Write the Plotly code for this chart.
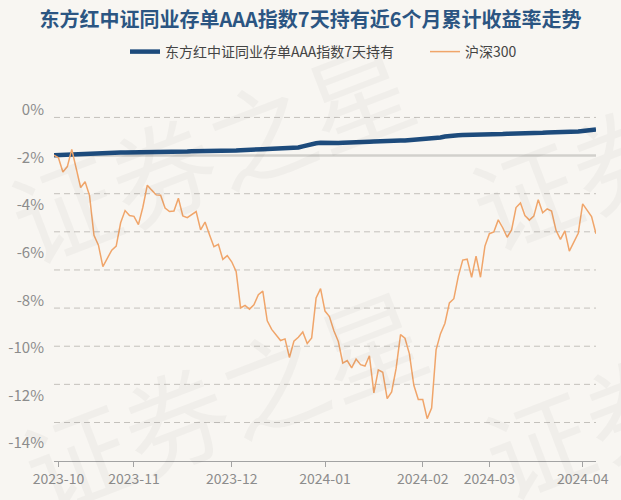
import pandas as pd
import plotly.graph_objects as go

# trading-day categories (Sep 28 2023 .. Apr 8 2024, China A-share calendar)
holidays = ['2023-09-29', '2023-10-02', '2023-10-03', '2023-10-04', '2023-10-05', '2023-10-06',
            '2024-01-01', '2024-02-09', '2024-02-12', '2024-02-13', '2024-02-14', '2024-02-15',
            '2024-02-16', '2024-04-04', '2024-04-05']
dates = pd.bdate_range('2023-09-28', '2024-04-08', freq='C', holidays=holidays).strftime('%Y-%m-%d').tolist()

fund_name = '东方红中证同业存单AAA指数7天持有'
index_name = '沪深300'

fund = [
    -1.90, -1.89, -1.88, -1.87, -1.86, -1.86, -1.85, -1.84, -1.83, -1.82,
    -1.81, -1.81, -1.80, -1.80, -1.80, -1.79, -1.79, -1.79, -1.78, -1.78,
    -1.78, -1.78, -1.77, -1.77, -1.77, -1.77, -1.76, -1.76, -1.76, -1.75,
    -1.75, -1.74, -1.74, -1.74, -1.73, -1.73, -1.72, -1.72, -1.71, -1.71,
    -1.70, -1.70, -1.69, -1.69, -1.68, -1.67, -1.66, -1.65, -1.64, -1.63,
    -1.63, -1.62, -1.62, -1.61, -1.60, -1.58, -1.53, -1.48, -1.43, -1.40,
    -1.38, -1.39, -1.40, -1.40, -1.39, -1.38, -1.38, -1.37, -1.36, -1.35,
    -1.35, -1.34, -1.33, -1.33, -1.32, -1.31, -1.30, -1.30, -1.29, -1.28,
    -1.27, -1.25, -1.24, -1.22, -1.21, -1.20, -1.18, -1.16, -1.12, -1.09,
    -1.07, -1.06, -1.05, -1.05, -1.04, -1.04, -1.03, -1.03, -1.02, -1.02,
    -1.01, -1.01, -1.00, -1.00, -0.99, -0.99, -0.98, -0.97, -0.97, -0.96,
    -0.96, -0.95, -0.95, -0.94, -0.94, -0.93, -0.93, -0.92, -0.91, -0.89,
    -0.87, -0.85, -0.82,
]

hs300 = [
    -1.90, -2.01, -2.61, -2.38, -1.66, -2.49, -3.26, -3.02, -3.60, -5.27,
    -5.68, -6.58, -6.20, -5.89, -5.72, -4.74, -4.23, -4.44, -4.47, -4.82,
    -4.09, -3.16, -3.37, -3.57, -3.58, -4.12, -4.27, -4.25, -3.71, -4.45,
    -4.53, -4.39, -4.27, -5.04, -4.71, -5.24, -5.75, -5.65, -6.28, -6.12,
    -6.38, -6.79, -8.32, -8.21, -8.37, -8.19, -7.76, -7.61, -8.86, -9.22,
    -9.44, -9.69, -9.62, -10.40, -9.72, -9.55, -9.33, -9.81, -9.58, -7.90,
    -7.51, -8.45, -8.68, -9.28, -9.73, -10.64, -10.53, -10.84, -10.47, -10.70,
    -10.76, -10.33, -11.89, -10.92, -11.02, -12.13, -11.85, -10.87, -9.44, -9.59,
    -10.25, -11.57, -12.17, -12.17, -12.97, -12.53, -10.08, -9.40, -8.96, -8.11,
    -7.93, -6.99, -6.31, -6.27, -7.03, -6.14, -7.03, -5.72, -5.20, -5.13,
    -4.62, -4.95, -5.35, -5.04, -4.10, -3.91, -4.44, -4.63, -4.46, -3.77,
    -4.32, -4.16, -4.25, -5.06, -5.44, -5.08, -5.93, -5.58, -5.18, -3.95,
    -4.22, -4.48, -5.20,
]

month_ticks = ['2023-10-09', '2023-11-01', '2023-12-01', '2024-01-02', '2024-02-01', '2024-03-01', '2024-04-01']
month_labels = ['2023-10', '2023-11', '2023-12', '2024-01', '2024-02', '2024-03', '2024-04']
y_ticks = [0, -2, -4, -6, -8, -10, -12, -14]
y_labels = ['0%', '-2%', '-4%', '-6%', '-8%', '-10%', '-12%', '-14%']
grid_levels = [1, -1, -2, -3, -4, -5, -6, -7]   # dashed guide lines (guide axis units)
base_level = 0                                  # solid guide line

FONT = 'Noto Sans CJK SC'
BG = '#f8f6f2'

fig = go.Figure()
# helper trace carrying the guide axis
fig.add_trace(go.Scatter(x=[dates[0]], y=[None], yaxis='y2', showlegend=False, hoverinfo='skip'))
fig.add_trace(go.Scatter(x=dates, y=fund, name=fund_name, mode='lines', legend='legend',
                         line=dict(color='#1d4b7c', width=4.5)))
fig.add_trace(go.Scatter(x=dates, y=hs300, name=index_name, mode='lines', legend='legend2',
                         line=dict(color='#f0a56a', width=1.5)))

for g in grid_levels:
    fig.add_shape(type='line', xref='paper', x0=0, x1=1, yref='y2', y0=g, y1=g,
                  layer='below', line=dict(color='#c4c1bc', width=1, dash='6px,4px'))
fig.add_shape(type='line', xref='paper', x0=0, x1=1, yref='y2', y0=base_level, y1=base_level,
              layer='below', line=dict(color='#d2d0cc', width=2.5))

# watermark
wm_color = 'rgba(0,0,0,0.03)'
for (ax, ay) in [(0.287, 0.868), (0.311, 0.176), (1.138, 0.904), (1.162, 0.212)]:
    fig.add_annotation(text='证券之星', x=ax, y=ay, xref='paper', yref='paper',
                       xanchor='center', yanchor='middle',
                       showarrow=False, textangle=-21,
                       font=dict(family=FONT, size=105, color=wm_color))

fig.update_layout(
    width=621, height=500,
    paper_bgcolor=BG, plot_bgcolor=BG,
    margin=dict(l=54, r=24, t=100, b=36),
    font=dict(family=FONT, color='#8c8c8c', size=14),
    title=dict(text='<b>东方红中证同业存单AAA指数7天持有近6个月累计收益率走势</b>',
               x=0.5, xref='container', xanchor='center',
               y=1 - 20 / 500, yref='container', yanchor='middle',
               font=dict(family=FONT, size=20, color='#2b5582')),
    legend=dict(orientation='h', x=125 / 621, xref='container', xanchor='left',
                y=1 - 52 / 500, yref='container', yanchor='middle',
                font=dict(family=FONT, size=14, color='#444444'),
                bgcolor='rgba(0,0,0,0)'),
    legend2=dict(orientation='h', x=425 / 621, xref='container', xanchor='left',
                 y=1 - 52 / 500, yref='container', yanchor='middle',
                 font=dict(family=FONT, size=14, color='#444444'),
                 bgcolor='rgba(0,0,0,0)'),
    xaxis=dict(type='category', range=[0, len(dates) - 1],
               tickvals=month_ticks, ticktext=month_labels,
               showgrid=False, zeroline=False,
               showline=True, linecolor='#a3a3a3', linewidth=1,
               ticks='outside', ticklen=5, tickcolor='#a3a3a3',
               tickfont=dict(family=FONT, size=14, color='#8c8c8c')),
    yaxis=dict(range=[-14.75, 0.4167], tickvals=y_ticks, ticktext=y_labels,
               showgrid=False, zeroline=False, showline=False, ticks='',
               ticklabelstandoff=9, automargin=False,
               tickfont=dict(family=FONT, size=15, color='#8c8c8c')),
    yaxis2=dict(overlaying='y', range=[-8.01, 1.457],
                showticklabels=False, showgrid=False, zeroline=False,
                showline=False, ticks=''),
    showlegend=True,
)

fig.write_html('out.html', config={'displayModeBar': False},
               post_script="document.body.style.margin='0';")
